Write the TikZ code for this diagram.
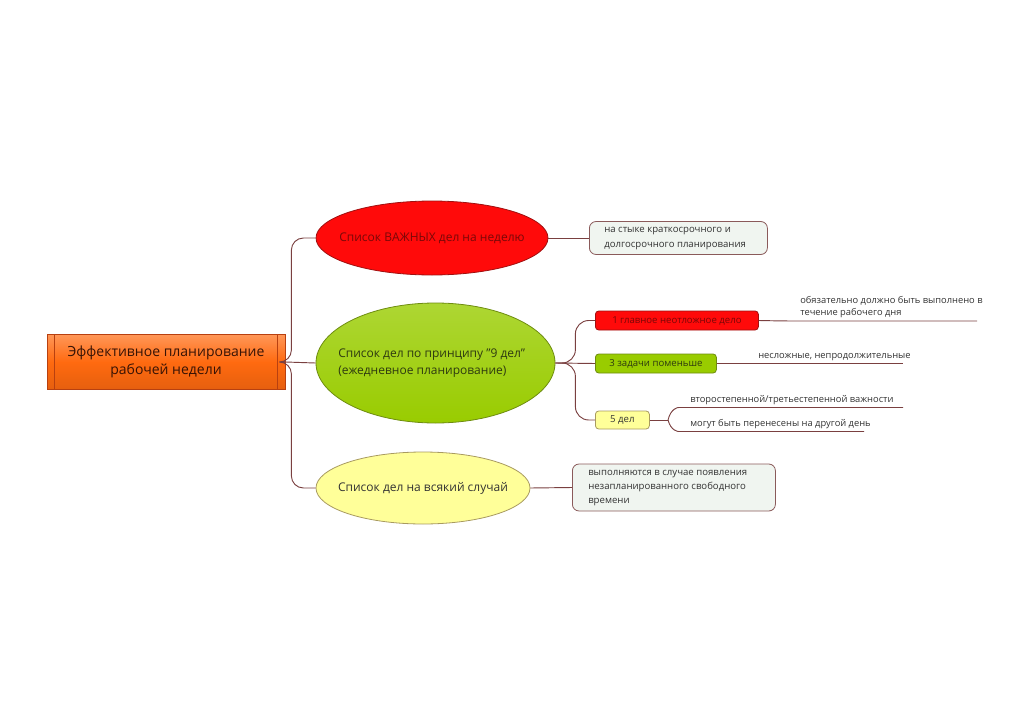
\documentclass[tikz,border=0pt]{standalone}
\usepackage{fontspec}
\setmainfont{Open Sans}
\usetikzlibrary{shapes.geometric,calc}
\definecolor{linec}{HTML}{7A4040}
\definecolor{rootfill}{HTML}{FF6A10}
\definecolor{rootdraw}{HTML}{B84010}
\definecolor{redfill}{HTML}{FF0A0A}
\definecolor{reddraw}{HTML}{A01010}
\definecolor{redtext}{HTML}{7A0808}
\definecolor{grnfill}{HTML}{99CC00}
\definecolor{grndraw}{HTML}{6E8C10}
\definecolor{grntext}{HTML}{2E3A10}
\definecolor{yelfill}{HTML}{FFFF99}
\definecolor{yeldraw}{HTML}{A89A60}
\definecolor{boxfill}{HTML}{F0F5F0}
\definecolor{boxdraw}{HTML}{8A5A5A}
\definecolor{txt}{HTML}{333333}
\tikzset{
  conn/.style={draw=linec, line width=0.7pt, rounded corners=7},
  ell/.style={ellipse, inner sep=0pt, line width=0.6pt},
  elltext/.style={font=\fontsize{9}{12.5}\selectfont, align=left, inner sep=0pt},
  leafbox/.style={draw=boxdraw, fill=boxfill, rounded corners=5, line width=0.6pt, anchor=west, inner sep=0pt},
  boxtext/.style={font=\fontsize{7.2}{10.6}\selectfont, text=txt, align=left, anchor=west, inner sep=0pt},
  smallbox/.style={rounded corners=2.5, line width=0.6pt, font=\fontsize{7.2}{9}\selectfont, anchor=west, inner sep=0pt},
  lab/.style={font=\fontsize{7}{9.6}\selectfont, text=txt, align=left, anchor=south west, inner xsep=0pt, inner ysep=2pt}
}
\begin{document}
\begin{tikzpicture}[x=0.75pt,y=-0.75pt]
\useasboundingbox (0,0) rectangle (1024,724);
% root
\node[draw=rootdraw, line width=0.6pt, top color=rootfill!70!white, bottom color=rootfill!90!black, middle color=rootfill, minimum width=238*0.75pt, minimum height=55*0.75pt, inner sep=0pt, text=black!70!rootdraw, font=\fontsize{10.5}{14}\selectfont, align=center] (root) at (166,362) {Эффективное планирование\\рабочей недели};
\draw[rootdraw, line width=0.5pt] ($(root.north west)+(8,0)$) -- ($(root.south west)+(8,0)$);
\draw[rootdraw, line width=0.5pt] ($(root.north east)+(-8,0)$) -- ($(root.south east)+(-8,0)$);
% ellipses
\node[ell, draw=reddraw, fill=redfill, minimum width=232*0.75pt, minimum height=74*0.75pt] (e1) at (432,238) {};
\node[elltext, text=redtext] (e1t) at (e1) {Список ВАЖНЫХ дел на неделю};
\node[ell, draw=grndraw, top color=grnfill!80!white, bottom color=grnfill, minimum width=239*0.75pt, minimum height=120*0.75pt] (e2) at (435.5,363) {};
\node[elltext, text=grntext, anchor=west] (e2t) at (338,363) {Список дел по принципу "9 дел"\\(ежедневное планирование)};
\node[ell, draw=yeldraw, fill=yelfill, minimum width=214*0.75pt, minimum height=72*0.75pt] (e3) at (423,488) {};
\node[elltext, text=txt] (e3t) at (e3) {Список дел на всякий случай};
% root connectors
\draw[conn, rounded corners=9] (root.east) -- ++(6,0) |- (e1.west);
\draw[conn] (root.east) -- (e2.west);
\draw[conn, rounded corners=9] (root.east) -- ++(6,0) |- (e3.west);
% leaf boxes
\node[leafbox, minimum width=178*0.75pt, minimum height=33*0.75pt] (b1) at (589,238) {};
\node[boxtext] (b1t) at (604,238.5) {на стыке краткосрочного и\\долгосрочного планирования};
\node[leafbox, minimum width=203*0.75pt, minimum height=47*0.75pt] (b3) at (572,487.5) {};
\node[boxtext] (b3t) at (588,488) {выполняются в случае появления\\незапланированного свободного\\времени};
\draw[conn] (e1.east) -- (b1.west);
\draw[conn] (e3.east) -- (b3.west);
% small boxes
\node[smallbox, draw=reddraw, fill=redfill, text=redtext, minimum width=163*0.75pt, minimum height=19*0.75pt] (s1) at (595,320.5) {1 главное неотложное дело};
\node[smallbox, draw=grndraw, fill=grnfill, text=grntext, minimum width=121*0.75pt, minimum height=19*0.75pt] (s2) at (595,363.5) {3 задачи поменьше};
\node[smallbox, draw=yeldraw, fill=yelfill, text=txt, minimum width=54*0.75pt, minimum height=18*0.75pt] (s3) at (595,420) {5 дел};
\draw[conn, rounded corners=10] (e2.east) -- ++(20,0) |- (s1.west);
\draw[conn] (e2.east) -- (s2.west);
\draw[conn, rounded corners=10] (e2.east) -- ++(20,0) |- (s3.west);
% labels with underlines
\coordinate (u1a) at (785,321);
\coordinate (u1b) at (977,321);
\node[lab] (l1) at (800,321) {обязательно должно быть выполнено в\\течение рабочего дня};
\draw[conn] (s1.east) -- (u1a) -- (u1b);
\coordinate (u2a) at (755,363.5);
\coordinate (u2b) at (903,363.5);
\node[lab] (l2) at (758,363.5) {несложные, непродолжительные};
\draw[conn] (s2.east) -- (u2a) -- (u2b);
\coordinate (u3a) at (688,407.5);
\coordinate (u3b) at (903,407.5);
\node[lab] (l3) at (690,407.5) {второстепенной/третьестепенной важности};
\coordinate (u4a) at (688,431.5);
\coordinate (u4b) at (864,431.5);
\node[lab] (l4) at (690,431.5) {могут быть перенесены на другой день};
\coordinate (f5) at (668,420);
\draw[conn] (s3.east) -- (f5);
\draw[conn] (f5) .. controls (671,408) and (678,407.5) .. (u3a) -- (u3b);
\draw[conn] (f5) .. controls (671,431) and (678,431.5) .. (u4a) -- (u4b);
\end{tikzpicture}
\end{document}
